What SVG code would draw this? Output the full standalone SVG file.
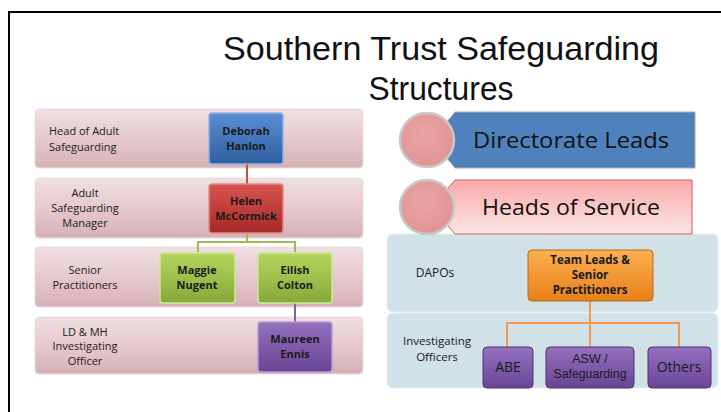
<svg xmlns="http://www.w3.org/2000/svg" width="721" height="412" viewBox="0 0 721 412">
<defs>
<linearGradient id="band" x1="0" y1="0" x2="0" y2="1"><stop offset="0" stop-color="#f0dfe1"/><stop offset="0.5" stop-color="#e6c9cd"/><stop offset="1" stop-color="#d6b1b6"/></linearGradient>
<linearGradient id="blue" x1="0" y1="0" x2="0" y2="1"><stop offset="0" stop-color="#5b8fd6"/><stop offset="1" stop-color="#2f5e9e"/></linearGradient>
<linearGradient id="red" x1="0" y1="0" x2="0" y2="1"><stop offset="0" stop-color="#d9534f"/><stop offset="1" stop-color="#a52a27"/></linearGradient>
<linearGradient id="green" x1="0" y1="0" x2="0" y2="1"><stop offset="0" stop-color="#b5d65c"/><stop offset="1" stop-color="#86a83a"/></linearGradient>
<linearGradient id="purple" x1="0" y1="0" x2="0" y2="1"><stop offset="0" stop-color="#9470bf"/><stop offset="1" stop-color="#6a4596"/></linearGradient>
<linearGradient id="orange" x1="0" y1="0" x2="0" y2="1"><stop offset="0" stop-color="#fbb050"/><stop offset="1" stop-color="#e8801a"/></linearGradient>
<linearGradient id="pinkban" x1="0" y1="0" x2="0" y2="1"><stop offset="0" stop-color="#f8a9a9"/><stop offset="1" stop-color="#fde6e6"/></linearGradient>
<radialGradient id="circ" cx="0.45" cy="0.4" r="0.6"><stop offset="0" stop-color="#eba3a3"/><stop offset="1" stop-color="#e09595"/></radialGradient>
</defs>
<style>
.band{fill:url(#band);stroke:#e9dcde;stroke-width:1}
.lbl{font-family:"Open Sans","Liberation Sans",sans-serif;font-size:11px;fill:#222}
.box{stroke-width:1.5}
.bt{font-family:"Open Sans","Liberation Sans",sans-serif;font-size:11px;font-weight:bold;fill:#1a1a1a;text-anchor:middle}
.title{font-family:"Liberation Sans",Arial,sans-serif;font-size:34px;fill:#111;text-anchor:middle}
.ban{font-family:"Open Sans","Liberation Sans",sans-serif;font-size:22px;fill:#111;text-anchor:middle}
.rb{fill:#d0e1e8;stroke:#e4eef2;stroke-width:1}
.pt{font-family:"Open Sans","Liberation Sans",sans-serif;font-size:14px;fill:#1a1a1a;text-anchor:middle}
.ls{font-family:"Liberation Sans",Arial,sans-serif;font-size:12.5px;fill:#1a1a1a;text-anchor:middle}
.circle{fill:url(#circ);stroke:#c8c8c8;stroke-width:2.5}
</style>
<rect x="9" y="12" width="720" height="410" fill="none" stroke="#000" stroke-width="2"/>
<text class="title" x="441" y="60" textLength="436" lengthAdjust="spacingAndGlyphs">Southern Trust Safeguarding</text>
<text class="title" x="441" y="100" textLength="145" lengthAdjust="spacingAndGlyphs">Structures</text>

<g id="bands-left">
<rect class="band" x="35" y="109" width="328" height="59" rx="4"/>
<rect class="band" x="35" y="178" width="328" height="60" rx="4"/>
<rect class="band" x="35" y="247" width="328" height="60" rx="4"/>
<rect class="band" x="35" y="317" width="328" height="57" rx="4"/>
<text class="lbl" x="49" y="135">Head of Adult</text>
<text class="lbl" x="49" y="151">Safeguarding</text>
<text class="lbl" x="85" y="197" text-anchor="middle">Adult</text>
<text class="lbl" x="85" y="212" text-anchor="middle">Safeguarding</text>
<text class="lbl" x="85" y="227" text-anchor="middle">Manager</text>
<text class="lbl" x="85" y="274" text-anchor="middle">Senior</text>
<text class="lbl" x="85" y="289" text-anchor="middle">Practitioners</text>
<text class="lbl" x="85" y="336" text-anchor="middle">LD &amp; MH</text>
<text class="lbl" x="85" y="350" text-anchor="middle">Investigating</text>
<text class="lbl" x="85" y="365" text-anchor="middle">Officer</text>
</g>

<g id="bands-right">
<rect class="rb" x="387" y="234" width="331" height="78" rx="6"/>
<rect class="rb" x="387" y="313" width="331" height="75" rx="6"/>
<text class="pt" x="435" y="277" style="font-size:12px">DAPOs</text>
<text class="pt" x="437" y="345" style="font-size:11.5px">Investigating</text>
<text class="pt" x="437" y="361" style="font-size:11.5px">Officers</text>
</g>

<g id="connectors" fill="none" stroke-width="2">
<path d="M247 164V184" stroke="#c0504d"/>
<path d="M247 233V242M198 253V242H295V253" stroke="#9bbb59"/>
<path d="M295 303V322" stroke="#8064a2"/>
<path d="M590 301V347M507 347V323H679V347" stroke="#f79646"/>
</g>

<g id="deborah"><rect class="box" x="209" y="113" width="74" height="51" rx="3" fill="url(#blue)" stroke="#8fb4e3"/><text class="bt" x="246" y="135">Deborah</text><text class="bt" x="246" y="150">Hanlon</text></g>
<g id="helen"><rect class="box" x="209" y="184" width="74" height="49" rx="3" fill="url(#red)" stroke="#e08a88"/><text class="bt" x="246" y="205">Helen</text><text class="bt" x="246" y="220">McCormick</text></g>
<g id="maggie"><rect class="box" x="160" y="253" width="75" height="50" rx="3" fill="url(#green)" stroke="#cfe69a"/><text class="bt" x="197" y="274">Maggie</text><text class="bt" x="197" y="289">Nugent</text></g>
<g id="eilish"><rect class="box" x="258" y="253" width="74" height="50" rx="3" fill="url(#green)" stroke="#cfe69a"/><text class="bt" x="295" y="274">Eilish</text><text class="bt" x="295" y="289">Colton</text></g>
<g id="maureen"><rect class="box" x="258" y="322" width="74" height="50" rx="3" fill="url(#purple)" stroke="#b49ad6"/><text class="bt" x="295" y="343">Maureen</text><text class="bt" x="295" y="358">Ennis</text></g>

<g id="directorate-leads">
<polygon points="455,112 695,112 695,168 455,168 432,140" fill="#4f81bd" stroke="#a9a9a9" stroke-width="1"/>
<circle class="circle" cx="427" cy="140" r="27"/>
<text class="ban" x="571" y="148" textLength="196" lengthAdjust="spacingAndGlyphs">Directorate Leads</text>
</g>
<g id="heads-of-service">
<polygon points="455,180 692,180 692,234 455,234 432,207" fill="url(#pinkban)" stroke="#d9595a" stroke-width="1"/>
<circle class="circle" cx="427" cy="207" r="27"/>
<text class="ban" x="571" y="215" textLength="178" lengthAdjust="spacingAndGlyphs">Heads of Service</text>
</g>

<g id="team-leads"><rect x="528" y="250" width="125" height="51" rx="4" fill="url(#orange)" stroke="#b86a14" stroke-width="1"/><text class="bt" x="590" y="264" style="font-size:11.5px">Team Leads &amp;</text><text class="bt" x="590" y="279" style="font-size:11.5px">Senior</text><text class="bt" x="590" y="294" style="font-size:11.5px">Practitioners</text></g>
<g id="abe"><rect x="483" y="347" width="50" height="41" rx="4" fill="url(#purple)" stroke="#4f3270" stroke-width="1"/><text class="pt" x="508" y="372">ABE</text></g>
<g id="asw"><rect x="546" y="347" width="88" height="41" rx="4" fill="url(#purple)" stroke="#4f3270" stroke-width="1"/><text class="ls" x="590" y="363">ASW /</text><text class="ls" x="590" y="378" textLength="73" lengthAdjust="spacingAndGlyphs">Safeguarding</text></g>
<g id="others"><rect x="648" y="347" width="63" height="41" rx="4" fill="url(#purple)" stroke="#4f3270" stroke-width="1"/><text class="pt" x="679" y="372">Others</text></g>
</svg>
